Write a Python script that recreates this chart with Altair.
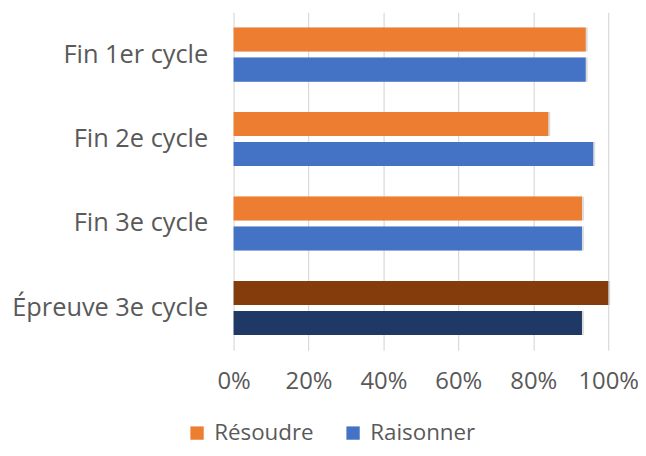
import altair as alt
import pandas as pd

categories = ["Fin 1er cycle", "Fin 2e cycle", "Fin 3e cycle", "Épreuve 3e cycle"]
series = ["Résoudre", "Raisonner"]
resoudre = [0.94, 0.84, 0.93, 1.00]
raisonner = [0.94, 0.96, 0.93, 0.93]
x_ticks = [0, 0.2, 0.4, 0.6, 0.8, 1.0]

rows = []
for i, c in enumerate(categories):
    special = c.startswith("Épreuve")
    for s, vals in zip(series, [resoudre, raisonner]):
        key = s + (" (épreuve)" if special else "")
        rows.append({"cat": c, "serie": s, "key": key, "val": vals[i]})
df = pd.DataFrame(rows)

color_domain = ["Résoudre", "Raisonner", "Résoudre (épreuve)", "Raisonner (épreuve)"]
color_range = ["#ED7D31", "#4472C4", "#843C0C", "#1F3864"]

font = "Open Sans"

y_enc = alt.Y("cat:N", sort=categories, title=None,
              scale=alt.Scale(paddingInner=0.36, paddingOuter=0.18),
              axis=alt.Axis(labelFontSize=25.5, labelColor="#595959", labelFont=font,
                            ticks=False, domain=False, labelPadding=26, labelLimit=300))
yoff_enc = alt.YOffset("serie:N", sort=series, scale=alt.Scale(paddingInner=0.2))
x_enc = alt.X("val:Q", title=None,
              scale=alt.Scale(domain=[0, 1], nice=False),
              axis=alt.Axis(values=x_ticks, format=".0%", labelFontSize=24, labelColor="#595959",
                            labelFont=font, ticks=False, domain=False, grid=True,
                            labelFlush=False, labelOverlap=False,
                            gridColor="#D9D9D9", gridWidth=1.2, labelPadding=20))

base = alt.Chart(df)

shadow = base.mark_bar(color="#8C8C8C", opacity=0.3, xOffset=2, yOffset=3).encode(
    y=y_enc, yOffset=yoff_enc, x=x_enc
)

bars = base.mark_bar().encode(
    y=y_enc, yOffset=yoff_enc, x=x_enc,
    color=alt.Color("key:N", scale=alt.Scale(domain=color_domain, range=color_range),
                    legend=alt.Legend(values=series, title=None, orient="none",
                                      legendX=-48, legendY=412, direction="horizontal",
                                      symbolType="square", symbolSize=180,
                                      symbolStrokeWidth=0, labelFontSize=22.5,
                                      labelColor="#595959", labelFont=font,
                                      labelOffset=6, columnPadding=28)),
)

chart = alt.layer(shadow, bars).properties(
    width=377, height=340,
    autosize=alt.AutoSizeParams(type="none"),
    padding={"left": 227, "top": 3, "right": 30, "bottom": 97},
).configure_view(stroke=None)

chart.save("out.html", embed_options={"renderer": "svg", "actions": False})
